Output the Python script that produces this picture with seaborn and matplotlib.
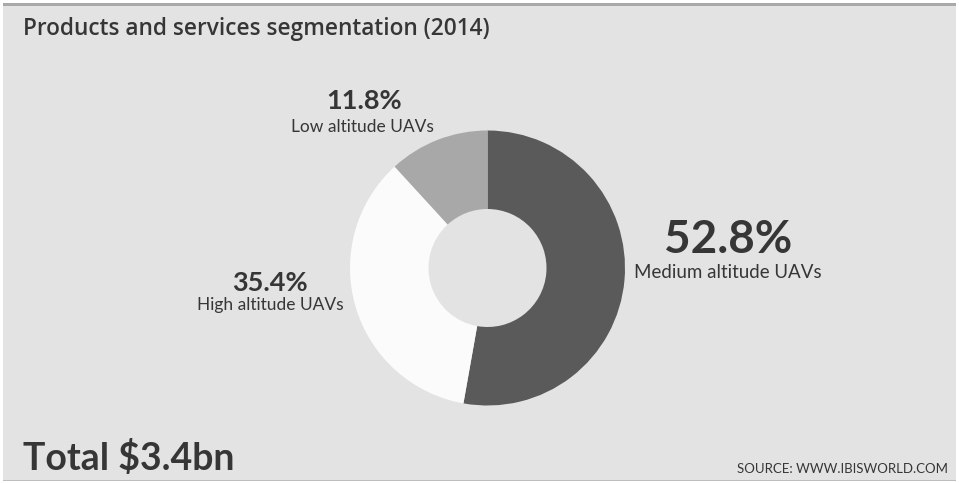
import matplotlib
matplotlib.use("Agg")
import matplotlib.pyplot as plt
from matplotlib.patches import Rectangle
import seaborn as sns

# Segment data (share of revenue, %)
segments = ["Medium altitude UAVs", "High altitude UAVs", "Low altitude UAVs"]
shares = [52.8, 35.4, 11.8]
segment_colors = ["#5a5a5a", "#fbfbfb", "#a8a8a8"]

title = "Products and services segmentation (2014)"
total_label = "Total $3.4bn"
source_label = "SOURCE: WWW.IBISWORLD.COM"

sns.set_style("white")
plt.rcParams["font.family"] = ["Lato", "DejaVu Sans"]

W, H = 959, 483
fig = plt.figure(figsize=(W / 100, H / 100), dpi=100, facecolor="white")
ax = fig.add_axes([0, 0, 1, 1])


def py(y):
    """Convert a top-down pixel row into data y."""
    return H - y


# Donut
cx, cy, r_out, r_in = 487.5, py(268), 137.5, 59
ax.pie(shares, colors=segment_colors, startangle=90, counterclock=False,
       center=(cx, cy), radius=r_out, frame=True,
       wedgeprops=dict(width=r_out - r_in, edgecolor="none"))
ax.set_xlim(0, W)
ax.set_ylim(0, H)
ax.set_aspect("equal")
ax.axis("off")

# Panel background with a darker top rule
ax.add_patch(Rectangle((3, py(481)), W - 6, 478, facecolor="#e3e3e3",
                       edgecolor="none", zorder=0))
ax.add_patch(Rectangle((3, py(6)), W - 6, 3, facecolor="#a9a9a9",
                       edgecolor="none", zorder=1))
ax.add_patch(Rectangle((3, py(481)), W - 6, 1.5, facecolor="#bdbdbd",
                       edgecolor="none", zorder=1))

dark = "#363636"
ax.text(23, py(29), title, fontsize=16.3, color=dark, fontweight="semibold",
        family=["Open Sans", "DejaVu Sans"], va="center", ha="left")

# Segment labels: value over name
ax.text(728, py(240), f"{shares[0]}%", fontsize=33, color=dark,
        fontweight="bold", ha="center", va="center")
ax.text(728, py(272), segments[0], fontsize=13.5, color=dark,
        ha="center", va="center")

ax.text(270, py(283), f"{shares[1]}%", fontsize=19.5, color=dark,
        fontweight="bold", ha="center", va="center")
ax.text(270, py(305), segments[1], fontsize=12.5, color=dark,
        ha="center", va="center")

ax.text(364, py(101), f"{shares[2]}%", fontsize=19.5, color=dark,
        fontweight="bold", ha="center", va="center")
ax.text(362, py(127), segments[2], fontsize=12.5, color=dark,
        ha="center", va="center")

ax.text(23, py(458), total_label, fontsize=27, color=dark,
        fontweight="bold", ha="left", va="center")
ax.text(948, py(469), source_label, fontsize=9.5, color=dark,
        ha="right", va="center")

fig.savefig("out.png", dpi=100, facecolor="white")
